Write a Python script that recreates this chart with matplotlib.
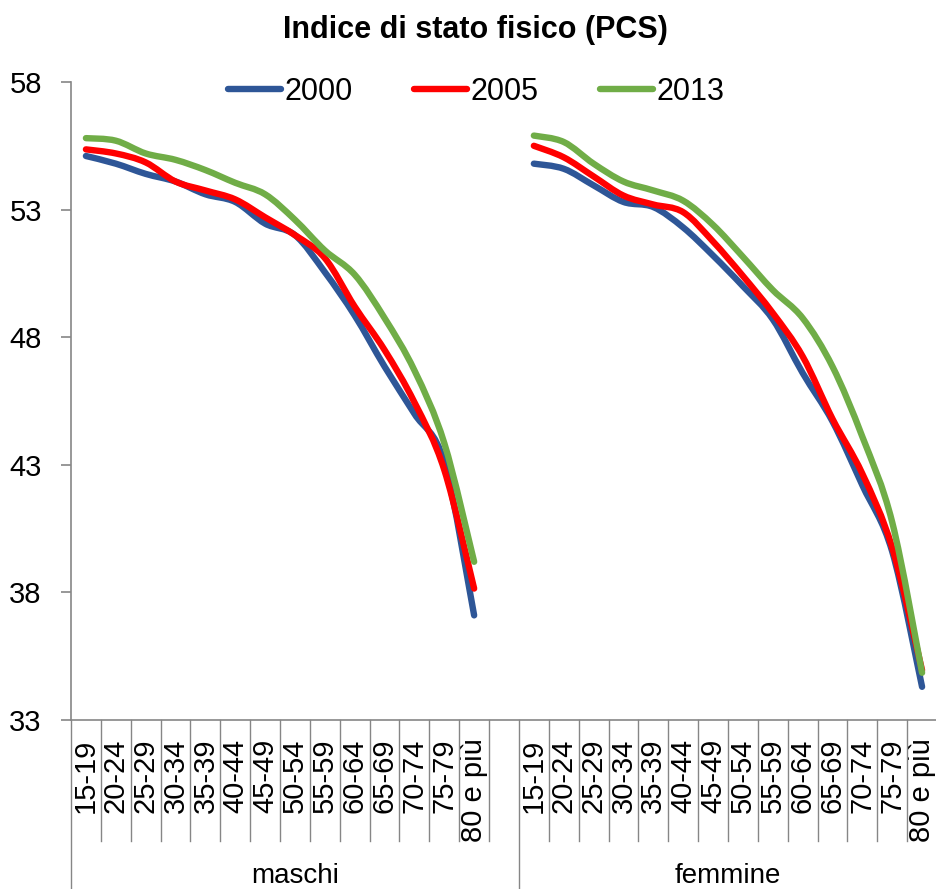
import numpy as np
import matplotlib
matplotlib.use("Agg")
import matplotlib.pyplot as plt
from matplotlib.path import Path
from matplotlib.patches import PathPatch
import matplotlib.transforms as mtransforms
from matplotlib.lines import Line2D

# ---------------- data ----------------
ages = ["15-19", "20-24", "25-29", "30-34", "35-39", "40-44", "45-49",
        "50-54", "55-59", "60-64", "65-69", "70-74", "75-79", "80 e più"]
groups = ["maschi", "femmine"]
years = ["2000", "2005", "2013"]

maschi_2000 = [55.1, 54.8, 54.4, 54.1, 53.6, 53.3, 52.45, 52.0, 50.55, 48.85, 46.85, 45.0, 43.1, 37.1]
maschi_2005 = [55.36, 55.2, 54.85, 54.1, 53.75, 53.4, 52.7, 52.0, 51.1, 49.2, 47.5, 45.45, 42.8, 38.15]
maschi_2013 = [55.8, 55.7, 55.2, 54.95, 54.55, 54.05, 53.6, 52.6, 51.4, 50.45, 48.75, 46.7, 43.85, 39.2]

femmine_2000 = [54.8, 54.6, 53.95, 53.3, 53.1, 52.3, 51.2, 50.0, 48.7, 46.6, 44.7, 42.2, 39.6, 34.3]
femmine_2005 = [55.5, 55.05, 54.3, 53.55, 53.2, 52.9, 51.75, 50.4, 48.95, 47.25, 44.8, 42.65, 39.75, 34.95]
femmine_2013 = [55.9, 55.65, 54.8, 54.1, 53.75, 53.35, 52.4, 51.15, 49.85, 48.75, 46.85, 44.1, 40.75, 34.85]

colors = {"2000": "#2E5697", "2005": "#FF0000", "2013": "#70AD47"}

FONT = ["Liberation Sans", "DejaVu Sans"]

# ---------------- figure ----------------
W, H = 937, 889
fig = plt.figure(figsize=(W / 100, H / 100), dpi=100)
ax_left, ax_right = 71 / W, 1.0
ax_bottom, ax_top = (H - 720) / H, (H - 82) / H
ax = fig.add_axes([ax_left, ax_bottom, ax_right - ax_left, ax_top - ax_bottom])

n = len(ages)
nslots = 2 * n + 1
x_m = np.arange(n) + 0.5
x_f = np.arange(n) + n + 1.5


def smooth_path(xs, ys):
    xs = np.asarray(xs, float)
    ys = np.asarray(ys, float)
    pts = np.column_stack([xs, ys])
    verts = [pts[0]]
    codes = [Path.MOVETO]
    m = len(pts)
    for i in range(m - 1):
        p0 = pts[i - 1] if i > 0 else pts[i]
        p1 = pts[i]
        p2 = pts[i + 1]
        p3 = pts[i + 2] if i + 2 < m else pts[i + 1]
        c1 = p1 + (p2 - p0) / 6.0
        c2 = p2 - (p3 - p1) / 6.0
        verts += [c1, c2, p2]
        codes += [Path.CURVE4] * 3
    return Path(verts, codes)


series = {
    "2000": (maschi_2000, femmine_2000),
    "2005": (maschi_2005, femmine_2005),
    "2013": (maschi_2013, femmine_2013),
}
lw = 4.6
for yr in years:
    ym, yf = series[yr]
    for xs, ys in ((x_m, ym), (x_f, yf)):
        patch = PathPatch(smooth_path(xs, ys), fill=False, edgecolor=colors[yr],
                          lw=lw, capstyle="round", joinstyle="round", zorder=3)
        ax.add_patch(patch)

ax.set_xlim(0, nslots)
ax.set_ylim(33, 58)
yt = [33, 38, 43, 48, 53, 58]
ax.set_yticks(yt)
ax.set_yticklabels([str(v) for v in yt], fontsize=21, family=FONT)
ax.tick_params(axis="y", length=7, width=1.2, color="#868686", pad=14)

ax.set_xticks(list(x_m) + list(x_f))
ax.set_xticklabels(ages + ages, rotation=90, fontsize=21, family=FONT)
ax.tick_params(axis="x", length=0, pad=13.5)

for s in ["top", "right"]:
    ax.spines[s].set_visible(False)
for s in ["left", "bottom"]:
    ax.spines[s].set_color("#868686")
    ax.spines[s].set_linewidth(1.2)

# category separators
trans = mtransforms.blended_transform_factory(ax.transData, ax.transAxes)
ax_h_px = 720 - 82
sep_short = -(841 - 720) / ax_h_px
sep_long = -(889 - 720) / ax_h_px
for k in range(nslots + 1):
    y1 = sep_long if k in (0, n + 1, nslots) else sep_short
    ax.add_line(Line2D([k, k], [0, y1], transform=trans, color="#868686",
                       lw=1.0, clip_on=False))

# group labels
ax.text((n + 1) / 2, -(876 - 720) / ax_h_px, groups[0], transform=trans,
        ha="center", va="center", fontsize=20, family=FONT)
ax.text(n + 1 + n / 2, -(876 - 720) / ax_h_px, groups[1], transform=trans,
        ha="center", va="center", fontsize=20, family=FONT)

# title
fig.text(475 / W, 1 - 30 / H, "Indice di stato fisico (PCS)", ha="center", va="center",
         fontsize=22, fontweight="bold", family=FONT)

# legend
handles = [Line2D([], [], color=colors[y], lw=lw, solid_capstyle="round") for y in years]
leg = fig.legend(handles, years, loc="center", bbox_to_anchor=(476 / W, 1 - 92 / H),
                 ncol=3, frameon=False, prop={"family": FONT, "size": 22},
                 handlelength=1.74, handletextpad=0.12, columnspacing=2.0)

fig.savefig("out.png", dpi=100)
